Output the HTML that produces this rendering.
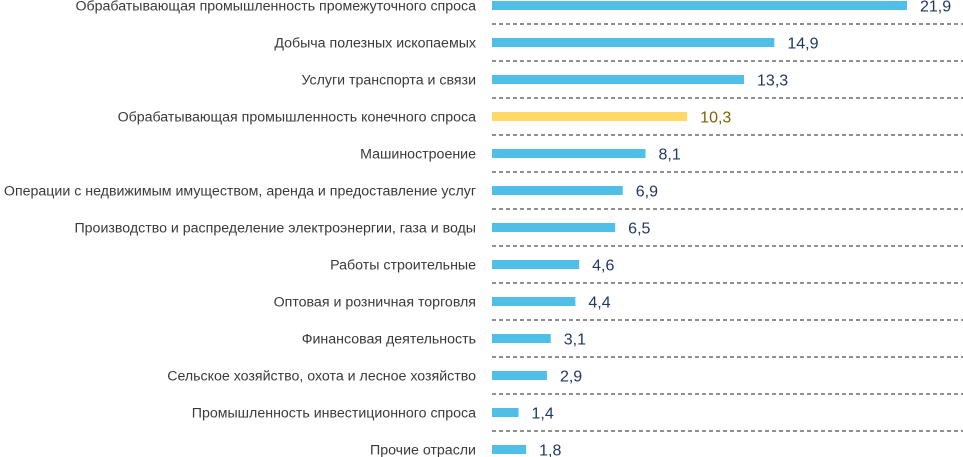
<!DOCTYPE html>
<html><head><meta charset="utf-8"><style>
body{margin:0;background:#fff;width:963px;height:457px;overflow:hidden}
svg{display:block}
.lbl{font-family:"Liberation Sans",sans-serif;font-size:14.2px;fill:#3a3a3a}
.val{font-family:"Liberation Sans",sans-serif;font-size:16px;fill:#1f3864}
</style></head><body>
<svg id="chart" width="963" height="457" xmlns="http://www.w3.org/2000/svg"></svg>
<script>
const categories=["Обрабатывающая промышленность промежуточного спроса","Добыча полезных ископаемых","Услуги транспорта и связи","Обрабатывающая промышленность конечного спроса","Машиностроение","Операции с недвижимым имуществом, аренда и предоставление услуг","Производство и распределение электроэнергии, газа и воды","Работы строительные","Оптовая и розничная торговля","Финансовая деятельность","Сельское хозяйство, охота и лесное хозяйство","Промышленность инвестиционного спроса","Прочие отрасли"];
const values=[21.9,14.9,13.3,10.3,8.1,6.9,6.5,4.6,4.4,3.1,2.9,1.4,1.8];
const valueLabels=["21,9","14,9","13,3","10,3","8,1","6,9","6,5","4,6","4,4","3,1","2,9","1,4","1,8"];
const highlighted=[false,false,false,true,false,false,false,false,false,false,false,false,false];
const svg=document.getElementById('chart');
const NS='http://www.w3.org/2000/svg';
const x0=492,pxPerUnit=(907-492)/21.9;
const xScale=v=>x0+v*pxPerUnit;
const yScale=i=>5.5+i*37;
function mk(t,a){const e=document.createElementNS(NS,t);for(const k in a)e.setAttribute(k,a[k]);svg.appendChild(e);return e;}
categories.forEach((c,i)=>{
 const y=yScale(i);
 const b=mk('rect',{x:x0,y:y-4.5,width:xScale(values[i])-x0,height:9,fill:highlighted[i]?'#ffd966':'#4fbfe8'});
 
 
 const l=mk('text',{x:476,y:y+5,'text-anchor':'end',class:'lbl'});l.textContent=c;
 
 
 const v=mk('text',{x:xScale(values[i])+13,y:y+6,class:'val'});v.textContent=valueLabels[i];
 if(highlighted[i])v.setAttribute('style','fill:#7f6000');
 
 
 if(i<categories.length-1){
  const d=mk('line',{x1:x0,x2:963,y1:y+18.5,y2:y+18.5,stroke:'#222','stroke-width':1,'stroke-dasharray':'4,3'});
  
  
 }
});
</script>
</body></html>
